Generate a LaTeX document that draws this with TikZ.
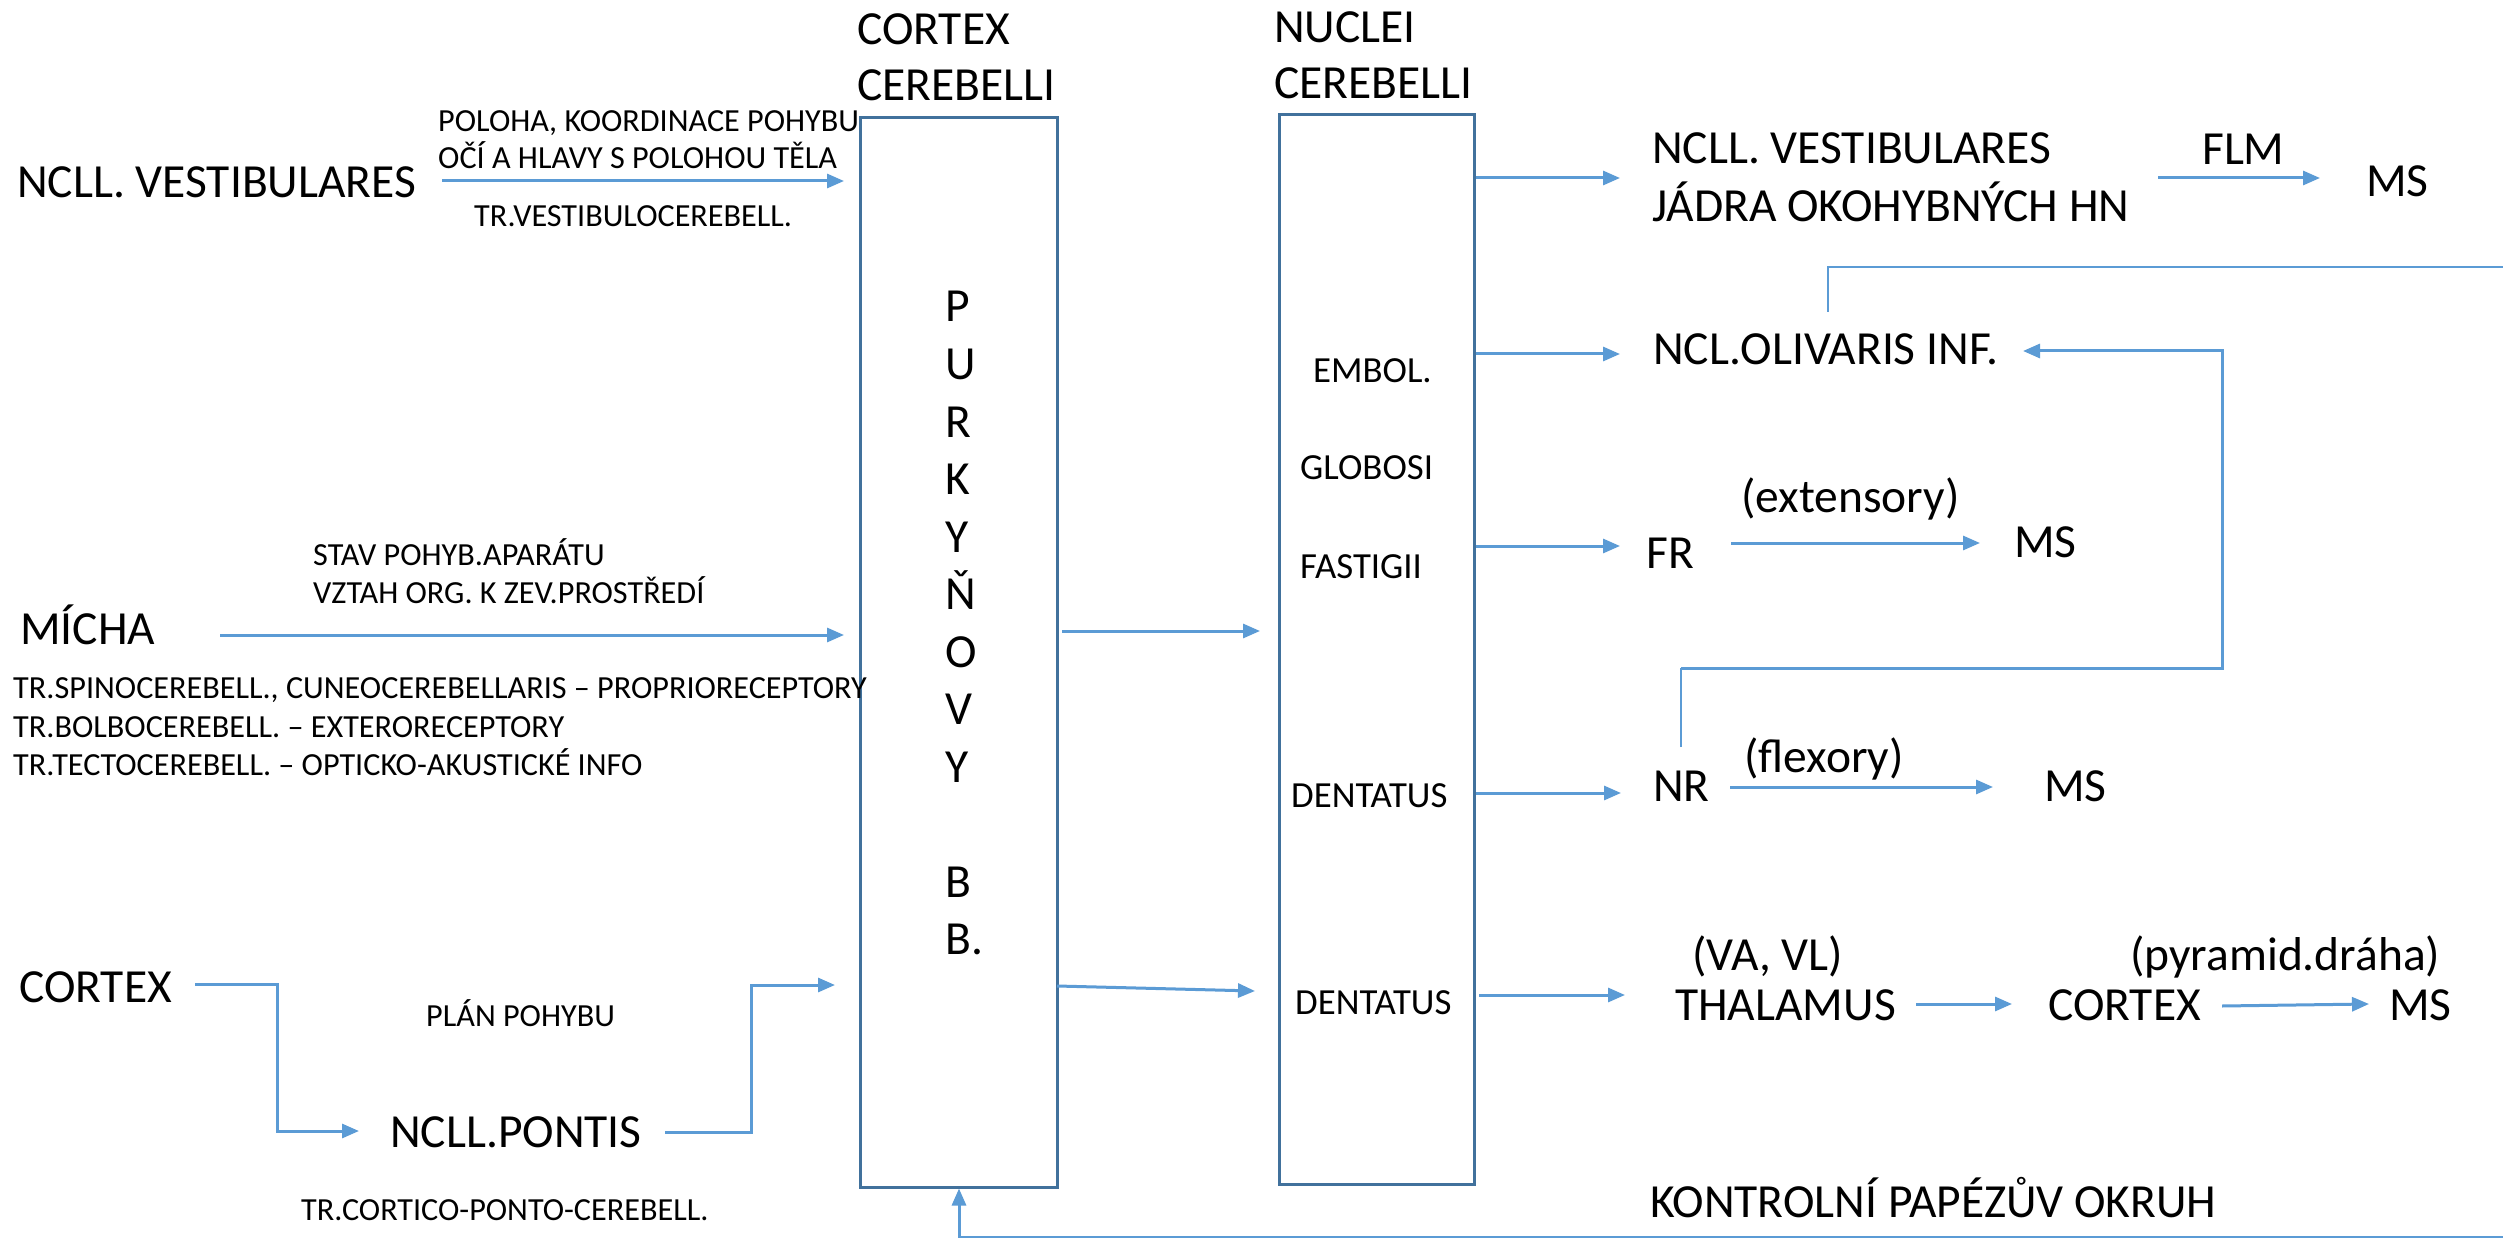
\documentclass[tikz,border=0pt]{standalone}
\usepackage{fontspec}
\setmainfont{Carlito}
\usetikzlibrary{arrows.meta}
\definecolor{arrowc}{HTML}{5B9BD5}
\definecolor{boxc}{HTML}{41719C}
\begin{document}
\begin{tikzpicture}[x=1pt,y=-1pt,
  big/.style={font=\fontsize{47.5}{57}\selectfont, inner sep=0pt, anchor=base west},
  small/.style={font=\fontsize{32.2}{38}\selectfont, inner sep=0pt, anchor=base west},
  mid/.style={font=\fontsize{36.8}{44}\selectfont, inner sep=0pt, anchor=base west},
  boxst/.style={draw=boxc, line width=3pt, inner sep=0pt},
  arr/.style={draw=arrowc, line width=3pt, -{Triangle[length=17pt,width=14pt]}},
  ln/.style={draw=arrowc, line width=3pt},
  thinln/.style={draw=arrowc, line width=1.8pt}]
\useasboundingbox (0,0) rectangle (2503,1238);
\fill[white] (0,0) rectangle (2503,1238);

% boxes
\node[boxst, minimum width=197pt, minimum height=1069pt] (cc) at (958.5,652.5) {};
\node[boxst, minimum width=195pt, minimum height=1069pt] (nc) at (1376.5,649.5) {};

% titles
\node[big] (t1a) at (857,45) {CORTEX};
\node[big] (t1b) at (857,101) {CEREBELLI};
\node[big] (t2a) at (1274,43) {NUCLEI};
\node[big] (t2b) at (1274,99) {CEREBELLI};

% Purkyne letters
\foreach \l/\i in {P/0,U/1,R/2,K/3,Y/4,Ň/5,O/6,V/7,Y/8,B/10,B./11}
  \node[big] (pk\i) at (945,322+57.5*\i) {\l};

% nuclei labels
\node[mid] (embol) at (1313,383) {EMBOL.};
\node[mid] (glob) at (1300,479) {GLOBOSI};
\node[mid] (fast) at (1300,578) {FASTIGII};
\node[mid] (dent1) at (1291,807) {DENTATUS};
\node[mid] (dent2) at (1295,1014) {DENTATUS};

% left side
\node[big] (vestL) at (17,198) {NCLL. VESTIBULARES};
\node[small] (pol1) at (438,132) {POLOHA, KOORDINACE POHYBU};
\node[small] (pol2) at (438,169) {OČÍ A HLAVY S POLOHOU TĚLA};
\node[small] (trv) at (474,227) {TR.VESTIBULOCEREBELL.};

\node[big] (micha) at (20,644) {MÍCHA};
\node[small] (stav) at (313,565) {STAV POHYB.APARÁTU};
\node[small] (vztah) at (313,603) {VZTAH ORG. K ZEV.PROSTŘEDÍ};
\node[small] (trs) at (13,698) {TR.SPINOCEREBELL., CUNEOCEREBELLARIS – PROPRIORECEPTORY};
\node[small] (trb) at (13,737) {TR.BOLBOCEREBELL. – EXTERORECEPTORY};
\node[small] (trt) at (13,775) {TR.TECTOCEREBELL. – OPTICKO-AKUSTICKÉ INFO};

\node[big] (cortL) at (19,1002) {CORTEX};
\node[small] (plan) at (426,1026) {PLÁN POHYBU};
\node[big] (pont) at (390,1147) {NCLL.PONTIS};
\node[small] (trc) at (301,1220) {TR.CORTICO-PONTO-CEREBELL.};

% right side
\node[big] (vestR) at (1652,164) {NCLL. VESTIBULARES};
\node[big] (jadra) at (1652,222) {JÁDRA OKOHYBNÝCH HN};
\node[big] (flm) at (2202,165) {FLM};
\node[big] (ms1) at (2366,197) {MS};
\node[big] (oliv) at (1653,365) {NCL.OLIVARIS INF.};
\node[big] (fr) at (1646,568) {FR};
\node[big] (ext) at (1741,512) {(extensory)};
\node[big] (ms2) at (2014,557) {MS};
\node[big] (nr) at (1653,801) {NR};
\node[big] (flex) at (1744,772) {(flexory)};
\node[big] (ms3) at (2044,801) {MS};
\node[big] (vavl) at (1692,970) {(VA, VL)};
\node[big] (thal) at (1675,1020) {THALAMUS};
\node[big] (cortR) at (2048,1020) {CORTEX};
\node[big] (pyr) at (2130,970) {(pyramid.dráha)};
\node[big] (ms4) at (2389,1020) {MS};
\node[big] (kontr) at (1650,1217) {KONTROLNÍ PAPÉZŮV OKRUH};

% coordinates for free ends
\coordinate (edgeA) at (2503,267);
\coordinate (edgeB) at (2503,1237);

% left connectors
\draw[arr] (442,181) -- (844,181);
\draw[arr] (220,635) -- (844,635);
\draw[arr] (195,984) -- (277,984) -- (277,1131) -- (359,1131);
\draw[arr] (665,1132) -- (751,1132) -- (751,985) -- (835,985);

% cortex -> nuclei
\draw[arr] (1062,631) -- (1260,631);
\draw[arr] (1057,986) -- (1255,991);

% nuclei -> right
\draw[arr] (nc.east |- 0,178) -- (1620,178);
\draw[arr] (nc.east |- 0,354) -- (1620,354);
\draw[arr] (nc.east |- 0,546) -- (1620,546);
\draw[arr] (1476,793) -- (1621,793);
\draw[arr] (1479,995) -- (1625,995);

\draw[arr] (2158,178) -- (2320,178);
\draw[arr] (1731,543) -- (1980,543);
\draw[arr] (1730,787) -- (1993,787);
\draw[arr] (1916,1004) -- (2012,1004);
\draw[arr] (2222,1006) -- (2369,1004);

% feedback loops
\draw[thinln] (1828,312) -- (1828,267) -- (edgeA);
\draw[thinln] (1681,747) -- (1681,668);
\draw[arr] (1681,668) -- (2222,668) -- (2222,351) -- (2023,351);
\draw[arr] (edgeB) -- (959,1237) -- (cc.south -| 959,0);
\end{tikzpicture}
\end{document}
